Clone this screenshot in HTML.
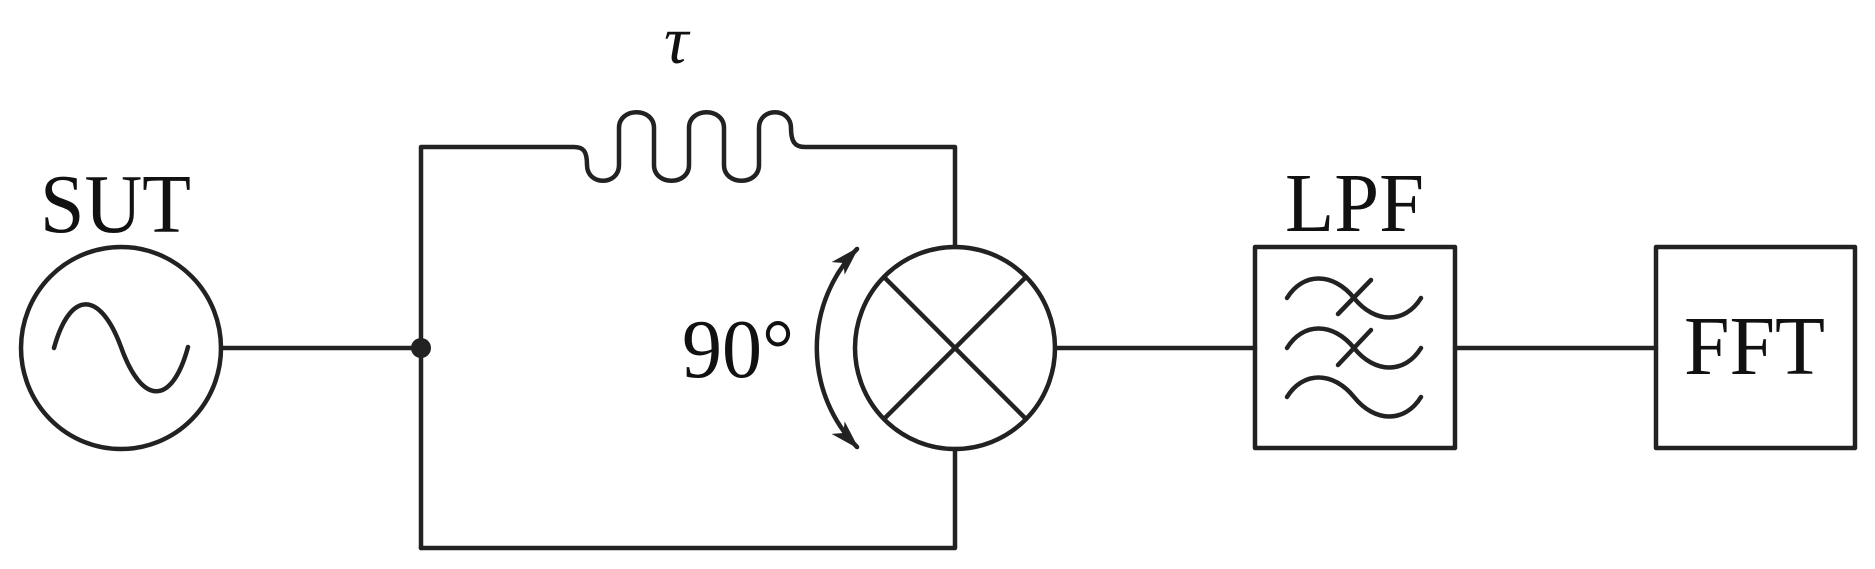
<!DOCTYPE html>
<html><head><meta charset="utf-8"><style>
html,body{margin:0;padding:0;background:#fff;}
svg{display:block;}
text{font-family:"Liberation Serif","Times New Roman",serif;fill:#111;}
</style></head><body>
<svg width="1875" height="569" viewBox="0 0 1875 569" xmlns="http://www.w3.org/2000/svg">
<defs>
<marker id="a" viewBox="0 0 20 12" refX="18" refY="6" markerWidth="30" markerHeight="18" markerUnits="userSpaceOnUse" orient="auto-start-reverse"><path d="M0,0 L20,6 L0,12 L5,6 Z" fill="#222"/></marker>
</defs>
<g fill="none" stroke="#222" stroke-width="4.5" stroke-linecap="round" stroke-linejoin="round">
<ellipse cx="121" cy="348" rx="100" ry="101"/>
<path d="M54,348 C70,290 100,290 121,347 C142,406 172,406 188,347"/>
<line x1="221" y1="348" x2="421" y2="348"/>
<path d="M421,548 L421,147 L574,147 C584,147 587,152 587,165 C587,186 619,186 619,165 L619,128 C619,107 654,107 654,128 L654,165 C654,186 689,186 689,165 L689,128 C689,107 724,107 724,128 L724,165 C724,186 759,186 759,165 L759,128 C759,107 791,107 791,128 C791,142 795,147 805,147 L955,147 L955,247"/>
<path d="M955,449 L955,548 L421,548"/>
<ellipse cx="955" cy="348" rx="100" ry="101"/>
<line x1="884" y1="277" x2="1026" y2="419"/>
<line x1="884" y1="419" x2="1026" y2="277"/>
<path d="M857,447 A142,142 0 0 1 857,249" marker-start="url(#a)" marker-end="url(#a)"/>
<line x1="1055" y1="348" x2="1255" y2="348"/>
<rect x="1255" y="247" width="200" height="201"/>
<path d="M1287,298 C1303,272 1333,272 1354,298 C1375,324 1405,324 1421,298"/>
<path d="M1287,348 C1303,322 1333,322 1354,348 C1375,374 1405,374 1421,348"/>
<path d="M1287,397 C1303,371 1333,371 1354,397 C1375,423 1405,423 1421,397"/>
<line x1="1338" y1="314" x2="1371" y2="280"/>
<line x1="1338" y1="365" x2="1371" y2="330"/>
<line x1="1455" y1="348" x2="1656" y2="348"/>
<rect x="1656" y="247" width="199" height="201"/>
</g>
<circle cx="421" cy="348" r="10" fill="#222"/>
<text x="40" y="232" font-size="84" textLength="151" lengthAdjust="spacingAndGlyphs">SUT</text>
<text x="664" y="63" font-size="68" font-style="italic">τ</text>
<text x="682" y="377" font-size="84" textLength="112" lengthAdjust="spacingAndGlyphs">90°</text>
<text x="1285" y="231" font-size="84" textLength="139" lengthAdjust="spacingAndGlyphs">LPF</text>
<text x="1684" y="374" font-size="84" textLength="141" lengthAdjust="spacingAndGlyphs">FFT</text>
</svg>
</body></html>
